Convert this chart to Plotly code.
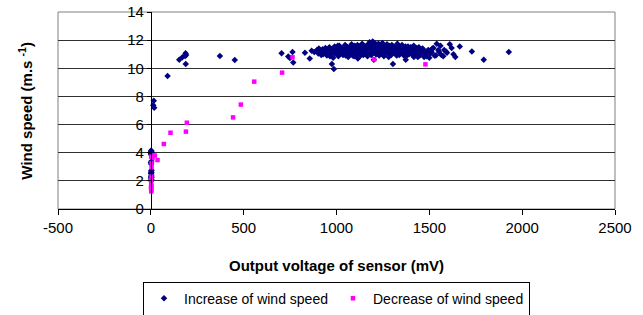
import plotly.graph_objects as go

# ---- Increase of wind speed (blue diamonds) ----
inc_x = [2, 3, 1, 4, 2, 3, 2, 1, 3, 2, 4, 2, 1, 3, 2, 3, 1, 4, 2, 3, 2,
         16, 13, 18, 90, 153, 170, 185, 187, 188, 190, 372, 452, 704, 740, 749, 763, 767,
         830, 856, 866, 880, 895, 902, 910, 918, 925, 933, 940, 948, 955, 962, 970, 975, 982, 990, 996,
         1003, 1010, 1015, 1022, 1028, 1035, 1040, 1046, 1052, 1058, 1063, 1070, 1075, 1081, 1087, 1092,
         1098, 1104, 1110, 1115, 1121, 1127, 1132, 1138, 1144, 1150, 1155, 1161, 1167, 1172, 1178, 1184,
         1190, 1195, 1201, 1207, 1212, 1218, 1224, 1230, 1235, 1241, 1247, 1253, 1258, 1264, 1270, 1275,
         1281, 1287, 1293, 1298, 1304, 1310, 1316, 1321, 1327, 1333, 1338, 1344, 1350, 1356, 1362, 1367,
         1373, 1379, 1385, 1390, 1396, 1402, 1408, 1414, 1420, 1426, 1432, 1438, 1445, 1452, 1460, 1468,
         1476, 1485, 1495, 1505, 1516, 1528, 1540, 1552, 1565, 1580, 1595, 1610, 1630, 1664, 1729, 1793,
         1928, 986, 975,
         905, 915, 928, 938, 945, 958, 965, 978, 985, 993, 1000, 1007, 1018, 1025, 1032, 1043, 1049, 1055,
         1066, 1072, 1078, 1084, 1090, 1095, 1101, 1107, 1113, 1118, 1124, 1130, 1135, 1141, 1147, 1152,
         1158, 1164, 1170, 1175, 1181, 1187, 1193, 1198, 1204, 1210, 1215, 1221, 1227, 1232, 1238, 1244,
         1250, 1255, 1261, 1267, 1272, 1278, 1284, 1290, 1295, 1301, 1307, 1313, 1318, 1324, 1330, 1335,
         1341, 1347, 1353, 1359, 1364, 1370, 1376, 1382, 1388, 1393, 1399, 1405, 1411, 1417, 1423, 1429,
         1435, 1441, 1448, 1456, 1464, 1472, 1481, 1490, 1500, 1512, 1522, 1535, 1548, 1560, 1575, 1590,
         1620, 1640,
         952, 968, 988, 1005, 1020, 1038, 1055, 1068, 1085, 1100, 1117, 1133, 1148, 1163, 1180, 1196,
         1213, 1226, 1240, 1256, 1269, 1283, 1299, 1314, 1328, 1343, 1358, 1372, 1386, 1400, 1416, 1430,
         1444, 1458]
inc_y = [2.0, 2.1, 2.2, 2.25, 2.3, 2.4, 2.5, 2.55, 2.6, 2.7, 2.75, 3.2, 3.3, 3.4, 3.85, 3.9, 3.95, 4.0, 4.05, 4.1, 4.15,
         7.7, 7.37, 7.2, 9.45, 10.6, 10.78, 10.87, 11.07, 10.3, 10.95, 10.87, 10.59, 11.07, 10.83, 10.73, 11.16, 10.42,
         11.1, 10.7, 11.25, 11.15, 11.3, 11.05, 11.2, 10.95, 11.35, 11.1, 11.45, 10.9, 11.25, 11.5, 11.0, 11.3, 10.75, 11.55, 11.15,
         11.4, 10.85, 11.6, 11.2, 11.45, 10.95, 11.3, 11.65, 11.05, 11.4, 10.8, 11.5, 11.15, 11.7, 10.9, 11.35,
         11.6, 11.0, 11.45, 10.7, 11.25, 11.55, 11.1, 11.75, 10.95, 11.4, 11.2, 11.6, 10.85, 11.3, 11.85, 11.05,
         11.5, 11.9, 10.6, 11.35, 11.7, 11.15, 11.45, 10.9, 11.6, 11.25, 11.8, 11.0, 11.4, 11.55, 11.1, 11.3,
         10.8, 11.5, 11.2, 11.65, 10.3, 11.35, 11.05, 11.45, 11.2, 11.6, 10.95, 11.3, 11.5, 11.1, 11.4, 10.85,
         10.6, 11.25, 11.55, 11.0, 11.35, 11.2, 11.5, 10.9, 11.3, 11.1, 11.45, 10.8, 11.25, 11.0, 11.35, 10.95,
         11.2, 10.85, 11.3, 11.05, 11.4, 10.9, 11.75, 11.15, 10.95, 11.3, 11.1, 11.7, 11.0, 11.55, 11.2, 10.6,
         11.15, 9.95, 10.3,
         11.4, 11.25, 11.0, 11.3, 11.15, 11.4, 10.85, 11.2, 11.45, 11.05, 11.3, 11.6, 11.0, 11.35, 11.15, 11.5, 10.9, 11.25,
         11.4, 11.05, 11.3, 11.55, 11.15, 10.85, 11.4, 11.25, 11.65, 11.0, 11.35, 10.9, 11.5, 11.2, 11.6, 11.05,
         11.3, 11.45, 11.1, 11.7, 11.3, 10.95, 11.6, 11.15, 11.8, 11.05, 11.4, 11.55, 11.2, 11.0, 11.45, 11.3,
         11.6, 10.85, 11.2, 11.45, 11.7, 11.05, 11.35, 11.5, 10.95, 11.25, 11.55, 11.15, 11.4, 10.9, 11.3, 11.5,
         11.05, 11.2, 11.65, 11.0, 11.35, 11.15, 11.45, 10.95, 11.3, 11.1, 11.5, 11.0, 11.25, 10.8, 11.4, 11.15,
         11.0, 11.3, 10.9, 11.15, 11.4, 10.8, 11.05, 11.25, 10.75, 11.15, 11.45, 10.9, 11.3, 11.6, 10.85, 11.2,
         11.45, 10.8,
         11.2, 11.35, 11.25, 11.1, 11.5, 11.2, 11.55, 11.2, 11.1, 11.3, 11.45, 11.3, 11.0, 11.25, 11.55, 11.3,
         11.0, 11.75, 11.1, 11.35, 11.2, 11.6, 11.4, 11.3, 11.75, 11.4, 11.25, 11.55, 11.2, 11.4, 11.6, 11.3,
         11.5, 11.05]

# ---- Decrease of wind speed (magenta squares) ----
dec_x = [2, 3, 2, 1, 3, 2, 1, 3, 4, 4, 9, 2, 13, 21, 36, 70, 106, 189, 194, 443, 485, 557, 707, 763, 1203, 1479]
dec_y = [1.25, 1.35, 1.45, 1.55, 1.65, 1.75, 2.05, 2.3, 2.96, 3.25, 3.62, 3.72, 3.79, 3.8, 3.48, 4.62, 5.42,
         5.5, 6.13, 6.51, 7.42, 9.05, 9.69, 10.78, 10.64, 10.28]

x_ticks = [-500, 0, 500, 1000, 1500, 2000, 2500]
x_tick_labels = ["-500", "0", "500", "1000", "1500", "2000", "2500"]
y_ticks = [0, 2, 4, 6, 8, 10, 12, 14]

FONT = "Liberation Sans, Arial, sans-serif"

fig = go.Figure()
fig.add_trace(go.Scatter(x=inc_x, y=inc_y, mode="markers", name="Increase of wind speed",
                         marker=dict(symbol="diamond", size=5, color="#000080")))
fig.add_trace(go.Scatter(x=dec_x, y=dec_y, mode="markers", name="Decrease of wind speed",
                         marker=dict(symbol="square", size=4.5, color="#FF00FF")))

fig.update_layout(
    width=643, height=315,
    margin=dict(l=58, r=28, t=12, b=106, autoexpand=False),
    paper_bgcolor="white", plot_bgcolor="white",
    font=dict(family=FONT, size=14, color="black"),
    showlegend=True,
    legend=dict(orientation="h", x=0.5, xanchor="center", y=-0.455, yanchor="middle",
                bordercolor="black", borderwidth=1, bgcolor="white",
                font=dict(size=14), itemwidth=30, tracegroupgap=0),
    xaxis=dict(range=[-500, 2500], tickvals=x_ticks, ticktext=x_tick_labels,
               showgrid=False, zeroline=False,
               showline=True, linecolor="black", linewidth=1,
               ticks="outside", ticklen=5, tickcolor="black",
               tickfont=dict(size=15)),
    yaxis=dict(range=[0, 14], tickvals=y_ticks, showgrid=True, gridcolor="#303030", gridwidth=1,
               zeroline=False, anchor="free", position=1/6,
               showline=True, linecolor="black", linewidth=1,
               ticks="outside", ticklen=4, tickcolor="black",
               tickfont=dict(size=15)),
    shapes=[dict(type="rect", xref="paper", yref="paper", x0=0, x1=1, y0=0, y1=1,
                 line=dict(color="#808080", width=1), layer="below")],
    annotations=[
        dict(text="<b>Output voltage of sensor (mV)</b>", xref="paper", yref="paper",
             x=0.5, y=-0.285, xanchor="center", yanchor="middle", showarrow=False,
             font=dict(size=15)),
        dict(text="<b>Wind speed (m.s <sup>-1</sup>)</b>", xref="paper", yref="paper",
             x=-0.059, y=0.5, xanchor="center", yanchor="middle", showarrow=False,
             textangle=-90, font=dict(size=15)),
    ],
)

fig.write_html("out.html", config={"displayModeBar": False},
               post_script="document.body.style.margin='0';document.body.style.overflow='hidden';")
